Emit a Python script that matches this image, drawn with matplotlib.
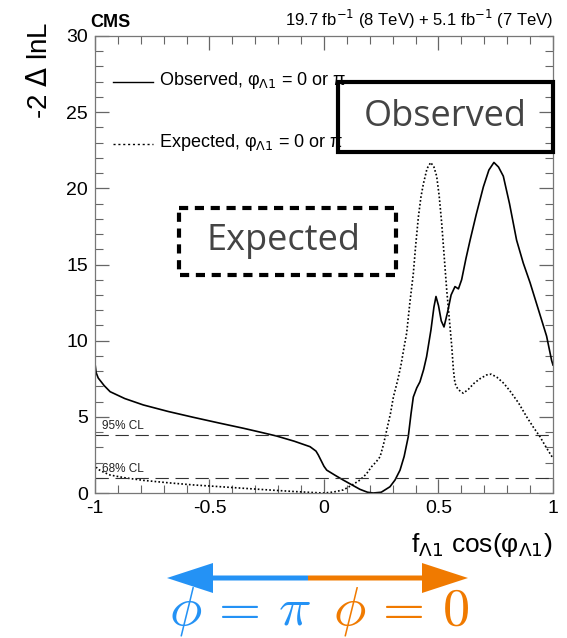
import matplotlib
matplotlib.use('Agg')
import matplotlib.pyplot as plt
from matplotlib.patches import Rectangle
from matplotlib.ticker import MultipleLocator

plt.rcParams['font.family'] = ['Liberation Sans', 'DejaVu Sans']
plt.rcParams['mathtext.fontset'] = 'cm'

# observed scan, -2 dlnL vs f_L1 cos(phi_L1)
obs_x = [-1.0, -0.995, -0.986, -0.96, -0.934, -0.87, -0.789, -0.68, -0.571, -0.46,
         -0.352, -0.28, -0.207, -0.13, -0.061, -0.035, -0.025, -0.01, 0.0, 0.012,
         0.05, 0.084, 0.12, 0.157, 0.19, 0.215, 0.25, 0.288, 0.31, 0.332,
         0.35, 0.368, 0.38, 0.39, 0.405, 0.419, 0.435, 0.448, 0.467, 0.48,
         0.489, 0.5, 0.512, 0.524, 0.54, 0.555, 0.572, 0.587, 0.601, 0.62,
         0.638, 0.665, 0.696, 0.72, 0.742, 0.762, 0.783, 0.81, 0.841, 0.87,
         0.9, 0.935, 0.972, 0.994, 1.0]
obs_y = [8.5, 7.9, 7.55, 7.05, 6.65, 6.2, 5.78, 5.35, 4.97, 4.6,
         4.25, 4.0, 3.74, 3.4, 3.04, 2.75, 2.5, 2.05, 1.75, 1.5,
         1.15, 0.85, 0.55, 0.24, 0.05, 0.0, 0.05, 0.41, 0.85, 1.5,
         2.4, 3.7, 5.2, 6.3, 6.9, 7.3, 8.1, 8.95, 10.7, 12.2,
         12.9, 12.3, 11.3, 10.9, 11.9, 13.0, 13.55, 13.4, 14.0, 15.4,
         16.6, 18.3, 20.1, 21.2, 21.7, 21.4, 20.8, 19.0, 16.6, 15.1,
         13.8, 12.1, 10.3, 8.7, 8.4]

# expected scan
exp_x = [-1.0, -0.995, -0.986, -0.96, -0.934, -0.87, -0.789, -0.68, -0.571, -0.46,
         -0.352, -0.24, -0.134, -0.06, 0.0, 0.04, 0.084, 0.12, 0.157, 0.185,
         0.208, 0.228, 0.245, 0.26, 0.274, 0.29, 0.303, 0.32, 0.335, 0.35,
         0.361, 0.375, 0.39, 0.4, 0.412, 0.423, 0.434, 0.45, 0.466, 0.48,
         0.492, 0.503, 0.514, 0.525, 0.536, 0.548, 0.558, 0.565, 0.572, 0.585,
         0.608, 0.63, 0.655, 0.681, 0.71, 0.73, 0.755, 0.785, 0.812, 0.85,
         0.885, 0.915, 0.943, 0.97, 1.0]
exp_y = [1.95, 1.7, 1.55, 1.35, 1.18, 1.0, 0.83, 0.67, 0.53, 0.42,
         0.31, 0.2, 0.1, 0.04, 0.0, 0.06, 0.2, 0.5, 0.85, 1.25,
         1.73, 2.05, 2.38, 3.2, 4.14, 5.2, 6.3, 7.3, 8.3, 9.6,
         10.5, 12.5, 14.4, 16.2, 18.1, 19.4, 20.3, 21.3, 21.7, 21.4,
         20.8, 19.5, 17.7, 15.5, 13.3, 11.3, 9.6, 8.1, 7.2, 6.8,
         6.55, 6.8, 7.2, 7.5, 7.75, 7.8, 7.6, 7.2, 6.7, 5.9,
         5.0, 4.3, 3.7, 3.0, 2.28]

cl_levels = [1.0, 3.84]
cl_labels = ['68% CL', '95% CL']

W, H = 567, 638
fig = plt.figure(figsize=(W / 100, H / 100), dpi=100)
ax = fig.add_axes([95 / W, 1 - 493 / H, 458 / W, 457 / H])

ax.plot(obs_x, obs_y, color='black', lw=1.2)
ax.plot(exp_x, exp_y, color='black', lw=1.2, ls=(0, (1, 1.3)))
for lev, lab in zip(cl_levels, cl_labels):
    ax.axhline(lev, color='#333333', lw=0.8, ls=(0, (12, 6)))
    ax.text(-0.97, lev + 0.35, lab, fontsize=8.5, color='#222222')

ax.set_xlim(-1, 1)
ax.set_ylim(0, 30)
ax.xaxis.set_major_locator(MultipleLocator(0.5))
ax.xaxis.set_minor_locator(MultipleLocator(0.1))
ax.yaxis.set_major_locator(MultipleLocator(5))
ax.yaxis.set_minor_locator(MultipleLocator(1))
ax.set_xticks([-1, -0.5, 0, 0.5, 1])
ax.set_xticklabels(['-1', '-0.5', '0', '0.5', '1'])
ax.tick_params(which='both', direction='in', top=True, right=True, color='#666666',
               labelsize=14)
ax.tick_params(which='major', length=10, width=0.9, pad=5)
ax.tick_params(which='minor', length=6, width=0.8)
for s in ax.spines.values():
    s.set_color('#777777')
    s.set_linewidth(0.9)

fig.text(90 / W, 1 - 27 / H, 'CMS', fontsize=13, fontweight='bold', va='baseline', ha='left')
fig.text(553 / W, 1 - 26 / H, r'19.7 fb$^{-1}$ (8 TeV) + 5.1 fb$^{-1}$ (7 TeV)',
         fontsize=12, va='baseline', ha='right', math_fontfamily='dejavusans')

# legend
ax.plot([-0.92, -0.745], [27.0, 27.0], color='black', lw=1.0)
ax.text(-0.72, 27.1, r'Observed, φ$_{\Lambda1}$ = 0 or π', fontsize=13,
        va='center', math_fontfamily='dejavusans')
ax.plot([-0.92, -0.745], [22.9, 22.9], color='black', lw=1.0, ls=(0, (1.5, 2)))
ax.text(-0.72, 23.0, r'Expected, φ$_{\Lambda1}$ = 0 or π', fontsize=13,
        va='center', math_fontfamily='dejavusans')

fig.text(40 / W, 1 - 22 / H, r'-2 $\Delta$ lnL', rotation=90, fontsize=20,
         ha='center', va='top', math_fontfamily='dejavusans')
fig.text(553 / W, 1 - 545 / H, r'f$_{\Lambda1}$ cos(φ$_{\Lambda1}$)', fontsize=19,
         ha='right', va='center', math_fontfamily='dejavusans')

# overlay in pixel coordinates for annotation boxes and arrows
ov = fig.add_axes([0, 0, 1, 1])
ov.set_xlim(0, W)
ov.set_ylim(H, 0)
ov.axis('off')
ov.add_patch(Rectangle((338, 82), 215, 70, fill=False, ec='black', lw=3))
ov.text(445, 117, 'Observed', fontsize=26, color='#444444', ha='center', va='center',
        family='Open Sans')
ov.add_patch(Rectangle((179, 208), 217, 67, fill=False, ec='black', lw=3,
                       ls=(0, (2.2, 1.6))))
ov.text(283, 241, 'Expected', fontsize=26, color='#444444', ha='center', va='center',
        family='Open Sans')

blue = '#2492F5'
orange = '#F07A00'
ov.arrow(308, 578, -141, 0, width=5, head_width=30, head_length=46,
         length_includes_head=True, color=blue, lw=0)
ov.arrow(308, 578, 160, 0, width=5, head_width=30, head_length=46,
         length_includes_head=True, color=orange, lw=0)
ov.text(240, 611, r'$\phi\, =\, \pi$', fontsize=39, color=blue, ha='center', va='center')
ov.text(401, 611, r'$\phi\, =\, 0$', fontsize=39, color=orange, ha='center', va='center')

fig.savefig('out.png', dpi=100)
